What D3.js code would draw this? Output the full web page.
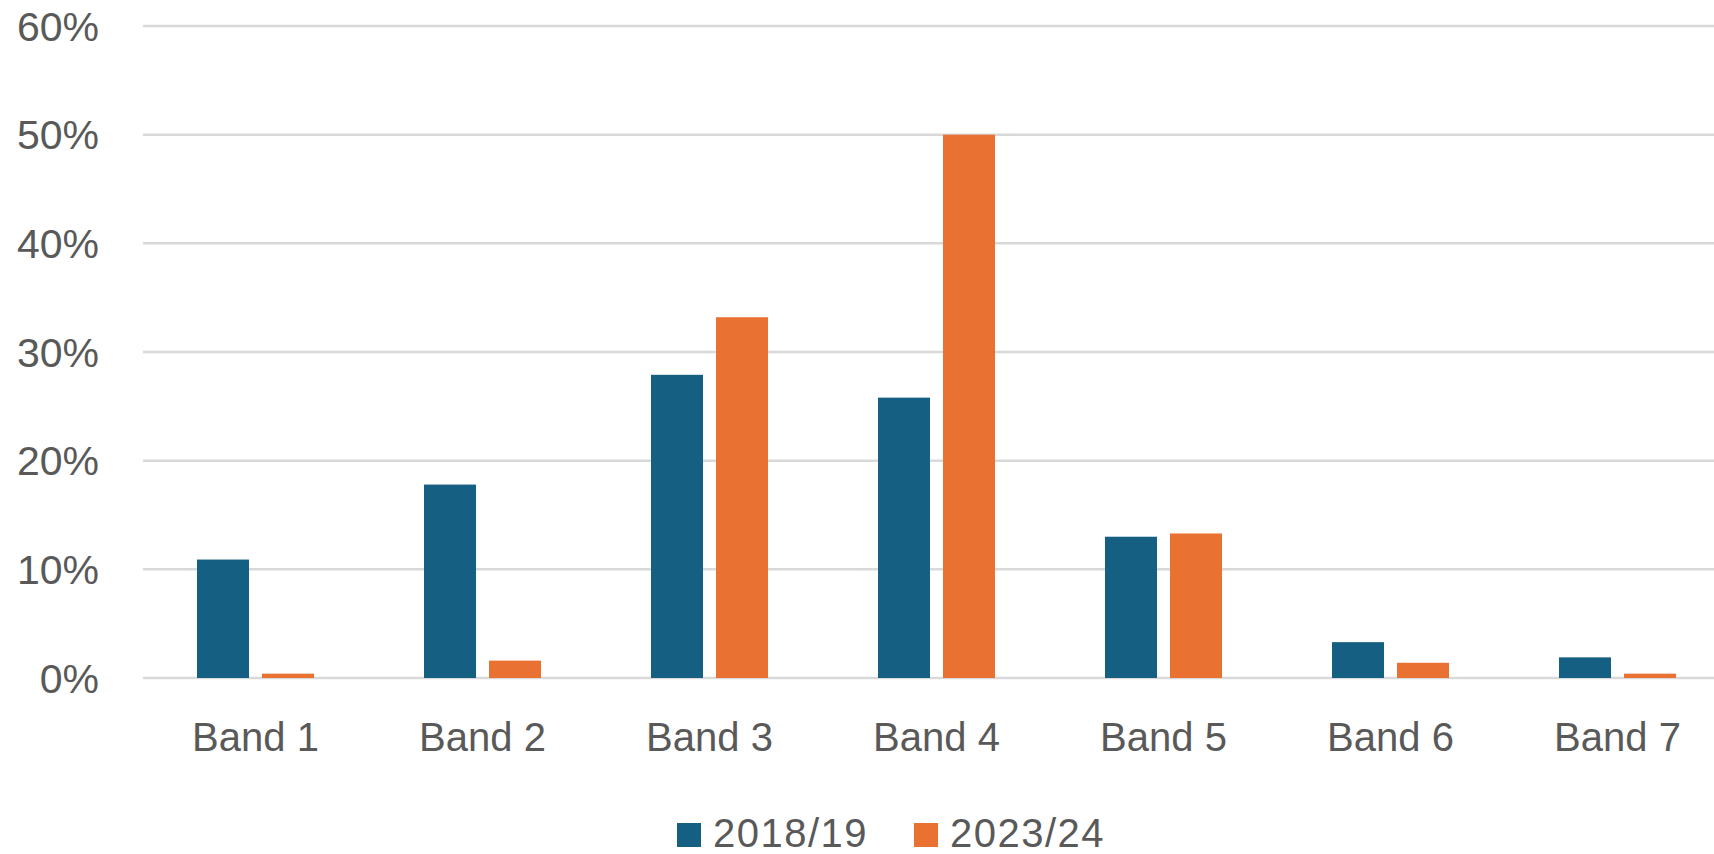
<!DOCTYPE html>
<html lang="en">
<head>
  <meta charset="UTF-8">
  <title>bands</title>
  <style>
    * { padding: 0; margin: 0; }
    html, body { width: 1714px; height: 854px; overflow: hidden; background: #fff; }
    text { font-family: Arial, "Liberation Sans", sans-serif; fill: #595959; }
  </style>
</head>
<body>
  <script src="https://cdn.jsdelivr.net/npm/d3@7"></script>
  <script>
    // data
    const bands = ['Band 1', 'Band 2', 'Band 3', 'Band 4', 'Band 5', 'Band 6', 'Band 7']
    const seriesNames = ['2018/19', '2023/24']
    const values1819 = [10.9, 17.8, 27.9, 25.8, 13.0, 3.3, 1.9]
    const values2324 = [0.4, 1.6, 33.2, 50.0, 13.3, 1.4, 0.4]
    const yTicks = [0, 10, 20, 30, 40, 50, 60]
    const colors = ['#156082', '#E97132']

    const width = 1714, height = 854
    const svg = d3.select('body').append('svg').attr('width', width).attr('height', height)

    // plot area runs past the right edge, like the source crop
    const x0 = d3.scaleBand().domain(bands).range([142, 1731]).padding(0)
    const x1 = d3.scaleBand().domain(seriesNames).range([55, 172]).paddingInner(0.2)
    const y = d3.scaleLinear().domain([0, 60]).range([678, 26])

    // gridlines
    svg.append('g').selectAll('line').data(yTicks).join('line')
      .attr('x1', 143).attr('x2', width)
      .attr('y1', d => y(d)).attr('y2', d => y(d))
      .attr('stroke', '#d9d9d9').attr('stroke-width', 2.5)

    // y labels
    svg.append('g').selectAll('text').data(yTicks).join('text')
      .attr('x', 99).attr('y', d => y(d)).attr('dy', '0.36em')
      .attr('text-anchor', 'end').style('font-size', '41px')
      .text(d => d + '%')

    // bars
    const rows = bands.map((b, i) => ({ band: b, vals: [values1819[i], values2324[i]] }))
    const groups = svg.append('g').selectAll('g').data(rows).join('g')
      .attr('transform', d => `translate(${x0(d.band)},0)`)
    groups.selectAll('rect').data(d => d.vals.map((v, j) => ({ key: seriesNames[j], v, j }))).join('rect')
      .attr('x', d => x1(d.key)).attr('width', x1.bandwidth())
      .attr('y', d => y(d.v)).attr('height', d => y(0) - y(d.v))
      .attr('fill', d => colors[d.j])

    // band labels
    svg.append('g').selectAll('text').data(bands).join('text')
      .attr('x', d => x0(d) + x0.bandwidth() / 2).attr('y', 751)
      .attr('text-anchor', 'middle').style('font-size', '40px')
      .text(d => d)

    // legend
    const legendX = [677, 914]
    const legend = svg.append('g').selectAll('g').data(seriesNames).join('g')
      .attr('transform', (d, i) => `translate(${legendX[i]},0)`)
    legend.append('rect').attr('x', 0).attr('y', 823).attr('width', 24).attr('height', 24)
      .attr('fill', (d, i) => colors[i])
    legend.append('text').attr('x', 36).attr('y', 847)
      .style('font-size', '40px').style('letter-spacing', '1.5px')
      .text(d => d)
  </script>
</body>
</html>
